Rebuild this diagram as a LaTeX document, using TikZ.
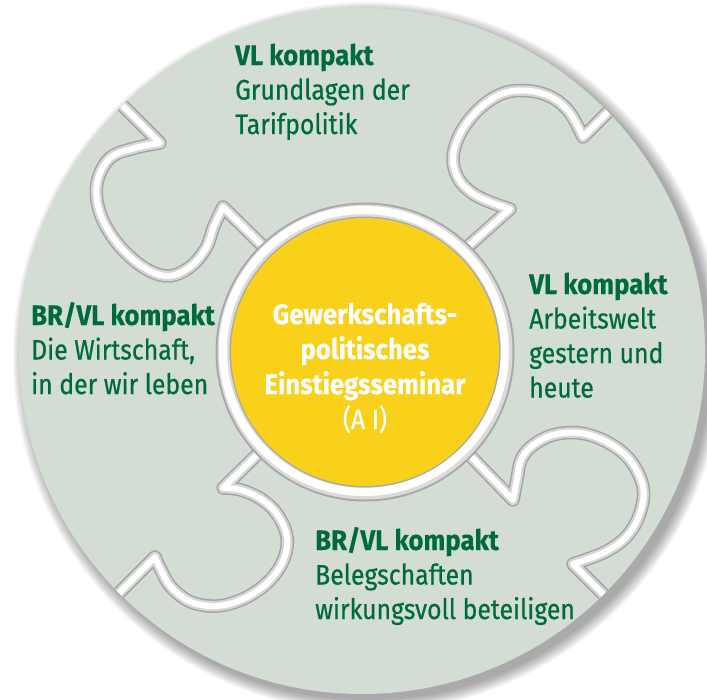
\documentclass[tikz,border=0pt]{standalone}
\usepackage{fontspec}
\setmainfont{Fira Sans}[FakeStretch=0.88, FakeBold=0.5, BoldFeatures={FakeStretch=0.915, FakeBold=0.3}]
\definecolor{bg}{HTML}{D3DDD4}
\definecolor{yel}{HTML}{F9D01A}
\definecolor{grn}{HTML}{006B3A}
\tikzset{
  cut/.style={draw=white, line width=6, line join=round, line cap=round,
    preaction={draw=black!36, line width=13.5, line join=round, line cap=round},
    preaction={draw=black!16, line width=10.5, line join=round, line cap=round}},
  head/.style={anchor=base west, inner sep=0, text=grn, font=\fontsize{28.2}{33}\selectfont\bfseries},
  body/.style={anchor=base west, inner sep=0, text=grn, font=\fontsize{28.2}{33}\selectfont},
  ctr/.style={anchor=base, inner sep=0, text=white, font=\fontsize{28.2}{33}\selectfont\bfseries},
  ctrn/.style={anchor=base, inner sep=0, text=white, font=\fontsize{28.2}{33}\selectfont}
}
\begin{document}
\begin{tikzpicture}[x=1pt,y=-1pt]
\useasboundingbox (0,0) rectangle (707,699);
\fill[white] (0,0) rectangle (707,699);
% soft shadow
\foreach \k in {1,...,12}{
  \fill[black, opacity=0.03] (368,357) circle[radius=342+1.1*\k];
}
\fill[bg] (362,351) circle[radius=343];
% puzzle cuts
\begin{scope}
\clip (362,351) circle[radius=343];
% NW
\draw[cut] (275,258) -- (223,207) -- plot[smooth, tension=0.6] coordinates {(223,207) (214,226) (206,248) (190,267) (168,276) (143,267) (117,243) (100,213) (97,183) (110,158) (135,148) (160,143)} -- (95,78);
% NE
\draw[cut] (455,258) -- (510,209) -- plot[smooth, tension=0.6] coordinates {(510,209) (490,202) (472,193) (458,178) (453,157) (461,132) (480,108) (504,93) (530,91) (553,98) (570,113) (583,137)} -- (630,90);
% SE
\draw[cut] (455,440) -- (513,500) -- plot[smooth, tension=0.6] coordinates {(513,500) (517,479) (521,460) (532,446) (553,435) (580,433) (607,442) (630,460) (643,487) (640,513) (627,536) (605,552) (573,564)} -- (625,616);
% SW
\draw[cut] (270,442) -- (223,488) -- plot[smooth, tension=0.6] coordinates {(223,488) (241,490) (261,499) (277,514) (287,537) (283,561) (267,583) (243,599) (217,606) (191,602) (171,587) (160,568) (155,557)} -- (100,612);
\end{scope}
% ring and centre
\draw[black!34, line width=16] (365,352) circle[radius=141.5];
\draw[black!14, line width=12] (365,352) circle[radius=141.5];
\draw[white, line width=8] (364,351) circle[radius=141];
\fill[yel] (365,352) circle[radius=134];
% centre text
\node[ctr] (c1) at (365,324) {Gewerkschafts-};
\node[ctr] (c2) at (365,359) {politisches};
\node[ctr] (c3) at (365,394) {Einstiegsseminar};
\node[ctrn] (c4) at (365,429) {(A I)};
% top
\node[head] (t1) at (235,65) {VL kompakt};
\node[body] (t2) at (235,99.5) {Grundlagen der};
\node[body] (t3) at (235,134) {Tarifpolitik};
% left
\node[head] (l1) at (31,325) {BR/VL kompakt};
\node[body] (l2) at (31,359.5) {Die Wirtschaft,};
\node[body] (l3) at (31,394) {in der wir leben};
% right
\node[head] (r1) at (529,294) {VL kompakt};
\node[body] (r2) at (529,328.5) {Arbeitswelt};
\node[body] (r3) at (529,363) {gestern und};
\node[body] (r4) at (529,397.5) {heute};
% bottom
\node[head] (b1) at (315,550) {BR/VL kompakt};
\node[body] (b2) at (315,584.5) {Belegschaften};
\node[body] (b3) at (315,619) {wirkungsvoll beteiligen};
\end{tikzpicture}
\end{document}
